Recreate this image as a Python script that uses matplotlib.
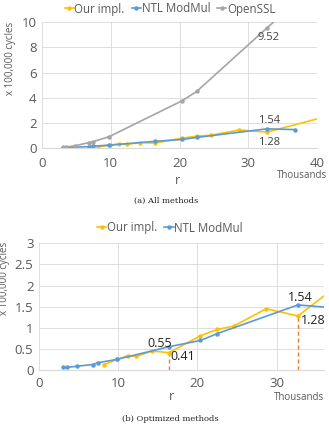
import matplotlib
matplotlib.use("Agg")
import matplotlib.pyplot as plt

# ---- data (r in thousands, cycles in units of 100,000) ----
our_r = [8.2, 9.9, 11.2, 12.3, 14.3, 16.4, 20.4, 22.5, 24.6, 28.7, 32.7, 41.0]
our_c = [0.13, 0.25, 0.34, 0.32, 0.45, 0.41, 0.81, 0.96, 1.04, 1.45, 1.28, 2.47]

ntl_r = [3.0, 3.5, 4.8, 6.8, 7.4, 9.8, 16.4, 20.4, 22.5, 32.7, 36.8]
ntl_c = [0.06, 0.06, 0.09, 0.13, 0.17, 0.25, 0.55, 0.70, 0.86, 1.54, 1.48]

ssl_r = [3.0, 3.5, 4.8, 6.8, 7.4, 9.8, 20.4, 22.5, 32.7, 36.8]
ssl_c = [0.08, 0.10, 0.20, 0.45, 0.52, 0.93, 3.77, 4.50, 9.52, 11.5]

top_xticks = [0, 10, 20, 30, 40]
top_yticks = [0, 2, 4, 6, 8, 10]
bot_xticks = [0, 10, 20, 30]
bot_yticks = [0, 0.5, 1, 1.5, 2, 2.5, 3]
bot_ytick_labels = ["0", "0.5", "1", "1.5", "2", "2.5", "3"]

YELLOW = "#FFC000"
BLUE = "#5B9BD5"
GRAY = "#A5A5A5"
ORANGE = "#ED7D31"
TXT = "#595959"
GRID = "#D9D9D9"

FONT = ["Open Sans", "DejaVu Sans"]
plt.rcParams["font.family"] = FONT

fig = plt.figure(figsize=(3.29, 4.24), dpi=100)

def style(ax, xlim, ylim, xt, yt, ytl=None, xpad=6):
    ax.set_xlim(*xlim)
    ax.set_ylim(*ylim)
    ax.set_xticks(xt)
    ax.set_yticks(yt)
    if ytl is not None:
        ax.set_yticklabels(ytl)
    ax.grid(True, color=GRID, linewidth=0.6)
    ax.set_axisbelow(True)
    for s in ["top", "right", "left"]:
        ax.spines[s].set_visible(False)
    ax.spines["bottom"].set_color(GRID)
    ax.spines["bottom"].set_linewidth(0.8)
    ax.tick_params(axis="both", length=0, labelsize=9.5, colors=TXT)
    ax.tick_params(axis="x", pad=xpad)
    ax.tick_params(axis="y", pad=4)

lkw = dict(linewidth=1.2, marker="o", markersize=2.2)
legkw = dict(frameon=False, fontsize=8.3, handlelength=0.8, handletextpad=0.05,
             columnspacing=0.6, labelcolor=TXT, borderpad=0.1)

# ---- top chart ----
ax1 = fig.add_axes([42/329, 1-148.3/424, (317-42)/329, (148.3-22)/424])
l1, = ax1.plot(our_r, our_c, color=YELLOW, label="Our impl.", **lkw)
l2, = ax1.plot(ntl_r, ntl_c, color=BLUE, label="NTL ModMul", **lkw)
l3, = ax1.plot(ssl_r, ssl_c, color=GRAY, label="OpenSSL", **lkw)
style(ax1, (0, 40), (0, 10), top_xticks, top_yticks, xpad=6)
ax1.text(33.0, 8.8, "9.52", fontsize=8, color="#404040", ha="center", va="center")
ax1.text(33.0, 2.2, "1.54", fontsize=8, color="#404040", ha="center", va="center")
ax1.text(33.0, 0.45, "1.28", fontsize=8, color="#404040", ha="center", va="center")
fig.legend(handles=[l1, l2, l3], loc="center", bbox_to_anchor=(170/329, 1-9/424),
           ncol=3, **legkw)
fig.text(11/329, 1-58/424, "x 100,000 cycles", rotation=90, fontsize=7, color=TXT,
         ha="center", va="center")
fig.text(302/329, 1-175/424, "Thousands", fontsize=7, color=TXT, ha="center", va="center")
fig.text(178/329, 1-181/424, "r", fontsize=9, color=TXT, ha="center", va="center")
fig.text(166/329, 1-201/424, "(a) All methods", fontsize=6, color="#222222",
         ha="center", va="center", family=["DejaVu Serif"])

# ---- bottom chart ----
ax2 = fig.add_axes([39/329, 1-370/424, (324-39)/329, (370-243.3)/424])
m1, = ax2.plot(our_r, our_c, color=YELLOW, label="Our impl.", **lkw)
m2, = ax2.plot(ntl_r, ntl_c, color=BLUE, label="NTL ModMul", **lkw)
style(ax2, (0, 36), (0, 3), bot_xticks, bot_yticks, bot_ytick_labels, xpad=5)
ax2.vlines([our_r[5], our_r[10]], 0, [our_c[5], our_c[10]], colors=ORANGE,
           linestyles=(0, (3, 2)), linewidth=1.0, zorder=1)
ax2.text(15.2, 0.62, "0.55", fontsize=9, color="#222222", ha="center", va="center")
ax2.text(18.1, 0.31, "0.41", fontsize=9, color="#222222", ha="center", va="center")
ax2.text(33.0, 1.72, "1.54", fontsize=9, color="#222222", ha="center", va="center")
ax2.text(34.6, 1.17, "1.28", fontsize=9, color="#222222", ha="center", va="center")
fig.legend(handles=[m1, m2], loc="center", bbox_to_anchor=(170/329, 1-228/424),
           ncol=2, **legkw)
fig.text(5/329, 1-278/424, "x 100,000 cycles", rotation=90, fontsize=7, color=TXT,
         ha="center", va="center")
fig.text(299/329, 1-398/424, "Thousands", fontsize=7, color=TXT, ha="center", va="center")
fig.text(171/329, 1-397/424, "r", fontsize=9, color=TXT, ha="center", va="center")
fig.text(170/329, 1-419/424, "(b) Optimized methods", fontsize=6, color="#222222",
         ha="center", va="center", family=["DejaVu Serif"])

fig.savefig("out.png", dpi=100)
